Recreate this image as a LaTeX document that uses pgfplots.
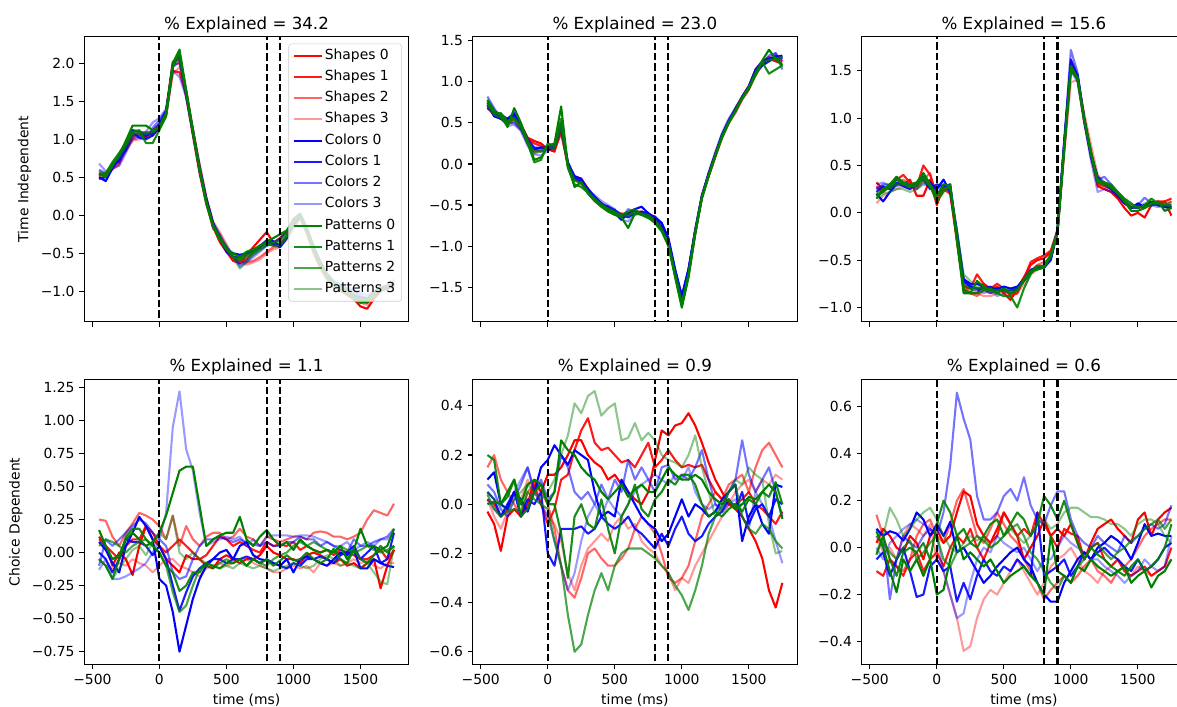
\documentclass[border=0pt]{standalone}
\usepackage{fontspec}
\setmainfont{DejaVu Sans}
\usepackage{pgfplots}
\usepackage{pgfplotstable}
\pgfplotsset{compat=1.18}

\definecolor{mred}{RGB}{255,0,0}
\definecolor{mblue}{RGB}{0,0,255}
\definecolor{mgreen}{RGB}{0,128,0}

% ---------- Panel 1: Time Independent, 34.2 ----------
\pgfplotstableread{
name -450 -400 -350 -300 -250 -200 -150 -100 -50 0 50 100 150 200 250 300 350 400 450 500 550 600 650 700 750 800 850 900 950 1000 1050 1100 1150 1200 1250 1300 1350 1400 1450 1500 1550 1600 1650 1700 1750
S0 0.52 0.55 0.68 0.70 0.95 1.05 1.08 1.02 1.12 1.20 1.38 2.02 2.05 1.55 1.05 0.55 0.15 -0.15 -0.35 -0.48 -0.60 -0.63 -0.52 -0.42 -0.32 -0.22 -0.36 -0.30 -0.22 -0.05 0.02 -0.22 -0.48 -0.68 -0.82 -0.92 -0.98 -1.05 -1.10 -1.20 -1.23 -1.10 -1.00 -0.95 -0.90
S1 0.55 0.50 0.62 0.75 0.85 1.02 1.10 1.08 1.05 1.15 1.32 1.90 1.88 1.58 1.12 0.65 0.22 -0.10 -0.30 -0.42 -0.55 -0.62 -0.58 -0.48 -0.42 -0.35 -0.40 -0.38 -0.28 -0.12 -0.02 -0.18 -0.42 -0.62 -0.78 -0.90 -0.95 -1.00 -1.08 -1.15 -1.15 -1.08 -0.98 -0.96 -0.92
S2 0.58 0.53 0.60 0.68 0.90 1.00 1.05 1.10 1.08 1.17 1.36 1.98 2.00 1.62 1.08 0.60 0.18 -0.18 -0.25 -0.45 -0.58 -0.60 -0.62 -0.60 -0.55 -0.48 -0.42 -0.40 -0.30 -0.15 -0.03 -0.25 -0.50 -0.70 -0.85 -0.95 -1.00 -1.02 -1.08 -1.12 -1.10 -1.02 -0.95 -0.92 -0.90
S3 0.50 0.55 0.62 0.66 0.85 0.98 1.00 1.02 1.05 1.15 1.30 1.85 1.95 1.65 1.15 0.68 0.25 -0.08 -0.22 -0.38 -0.55 -0.62 -0.65 -0.62 -0.58 -0.50 -0.45 -0.42 -0.32 -0.18 -0.05 -0.22 -0.46 -0.66 -0.82 -0.92 -0.98 -1.04 -1.12 -1.15 -1.18 -1.08 -1.00 -0.96 -0.90
C0 0.50 0.45 0.62 0.75 0.92 1.12 1.10 1.05 1.08 1.20 1.36 1.98 2.10 1.62 1.12 0.62 0.22 -0.10 -0.28 -0.45 -0.50 -0.52 -0.50 -0.45 -0.42 -0.35 -0.38 -0.42 -0.30 -0.10 0.00 -0.20 -0.44 -0.64 -0.80 -0.90 -0.95 -1.00 -1.05 -1.08 -1.10 -1.05 -1.00 -0.95 -0.92
C1 0.48 0.50 0.66 0.72 0.88 1.10 1.02 1.00 1.05 1.15 1.33 1.96 2.12 1.60 1.08 0.58 0.18 -0.12 -0.30 -0.48 -0.55 -0.55 -0.50 -0.48 -0.40 -0.33 -0.34 -0.40 -0.28 -0.12 -0.02 -0.20 -0.45 -0.66 -0.80 -0.90 -0.96 -1.00 -1.06 -1.12 -1.12 -1.05 -0.98 -0.94 -0.90
C2 0.60 0.55 0.64 0.70 0.86 1.05 1.05 1.02 1.15 1.25 1.38 1.95 2.02 1.58 1.10 0.62 0.20 -0.12 -0.30 -0.42 -0.55 -0.65 -0.60 -0.52 -0.45 -0.40 -0.36 -0.32 -0.22 -0.08 0.00 -0.18 -0.42 -0.62 -0.78 -0.88 -0.92 -0.98 -1.00 -1.05 -1.10 -1.02 -0.95 -0.98 -0.88
C3 0.68 0.58 0.62 0.65 0.82 1.00 1.02 1.10 1.22 1.28 1.40 1.90 1.82 1.55 1.10 0.65 0.22 -0.10 -0.25 -0.40 -0.52 -0.68 -0.62 -0.55 -0.48 -0.40 -0.38 -0.30 -0.20 -0.08 0.02 -0.15 -0.40 -0.60 -0.76 -0.86 -0.90 -0.95 -0.98 -1.02 -1.05 -1.00 -0.95 -0.92 -0.85
P0 0.55 0.50 0.65 0.80 0.98 1.18 1.18 1.18 1.12 1.15 1.35 2.00 2.18 1.65 1.12 0.60 0.18 -0.15 -0.32 -0.45 -0.50 -0.55 -0.48 -0.45 -0.40 -0.35 -0.30 -0.25 -0.20 -0.08 0.00 -0.20 -0.45 -0.65 -0.80 -0.90 -0.95 -1.00 -1.08 -1.12 -1.15 -1.05 -1.00 -0.95 -0.92
P1 0.52 0.55 0.70 0.82 0.95 1.10 1.12 0.95 0.95 1.12 1.30 1.95 2.15 1.62 1.10 0.58 0.15 -0.15 -0.30 -0.45 -0.55 -0.58 -0.52 -0.48 -0.40 -0.38 -0.40 -0.40 -0.28 -0.10 0.00 -0.22 -0.46 -0.66 -0.82 -0.92 -0.98 -1.02 -1.10 -1.15 -1.12 -1.05 -0.98 -0.95 -0.92
P2 0.56 0.52 0.68 0.78 0.92 1.08 1.10 1.08 1.10 1.18 1.34 1.98 2.10 1.60 1.08 0.60 0.18 -0.12 -0.28 -0.42 -0.55 -0.60 -0.55 -0.50 -0.44 -0.38 -0.36 -0.34 -0.24 -0.08 0.02 -0.20 -0.44 -0.64 -0.80 -0.90 -0.95 -1.00 -1.05 -1.10 -1.10 -1.02 -0.96 -0.94 -0.90
P3 0.54 0.56 0.66 0.76 0.90 1.06 1.08 1.06 1.08 1.16 1.32 1.96 2.06 1.60 1.10 0.62 0.20 -0.14 -0.30 -0.44 -0.56 -0.70 -0.62 -0.52 -0.46 -0.40 -0.36 -0.32 -0.20 -0.05 0.02 -0.18 -0.42 -0.62 -0.78 -0.88 -0.94 -0.98 -1.02 -1.08 -1.08 -1.00 -0.95 -0.95 -0.95
}\rawA
\pgfplotstabletranspose[colnames from=name, input colnames to=t]\dataA\rawA

% ---------- Panel 2: Time Independent, 23.0 ----------
\pgfplotstableread{
name -450 -400 -350 -300 -250 -200 -150 -100 -50 0 50 100 150 200 250 300 350 400 450 500 550 600 650 700 750 800 850 900 950 1000 1050 1100 1150 1200 1250 1300 1350 1400 1450 1500 1550 1600 1650 1700 1750
S0 0.70 0.62 0.55 0.52 0.58 0.48 0.32 0.28 0.25 0.18 0.15 0.40 -0.02 -0.15 -0.18 -0.30 -0.42 -0.48 -0.55 -0.58 -0.65 -0.62 -0.58 -0.60 -0.62 -0.68 -0.80 -0.98 -1.35 -1.68 -1.35 -0.85 -0.40 -0.12 0.12 0.35 0.52 0.65 0.80 0.92 1.10 1.22 1.28 1.25 1.22
S1 0.75 0.60 0.58 0.50 0.55 0.45 0.30 0.25 0.22 0.20 0.18 0.42 0.02 -0.18 -0.20 -0.35 -0.45 -0.50 -0.52 -0.60 -0.62 -0.60 -0.58 -0.58 -0.60 -0.65 -0.78 -0.95 -1.30 -1.65 -1.30 -0.82 -0.38 -0.15 0.10 0.32 0.50 0.68 0.82 0.95 1.15 1.25 1.30 1.28 1.25
S2 0.68 0.60 0.55 0.48 0.52 0.42 0.28 0.15 0.18 0.22 0.20 0.38 0.00 -0.20 -0.22 -0.35 -0.45 -0.52 -0.55 -0.58 -0.60 -0.62 -0.58 -0.60 -0.62 -0.70 -0.80 -0.98 -1.32 -1.70 -1.32 -0.80 -0.42 -0.15 0.08 0.32 0.50 0.62 0.78 0.90 1.08 1.20 1.25 1.30 1.32
S3 0.72 0.64 0.56 0.50 0.55 0.46 0.30 0.12 0.16 0.20 0.18 0.36 -0.02 -0.18 -0.25 -0.32 -0.44 -0.50 -0.55 -0.60 -0.62 -0.60 -0.62 -0.60 -0.64 -0.70 -0.78 -0.96 -1.35 -1.72 -1.35 -0.85 -0.40 -0.15 0.10 0.34 0.52 0.64 0.80 0.92 1.10 1.22 1.25 1.28 1.30
C0 0.72 0.58 0.55 0.55 0.60 0.45 0.25 0.18 0.20 0.20 0.22 0.50 0.02 -0.15 -0.18 -0.32 -0.40 -0.48 -0.55 -0.60 -0.68 -0.60 -0.55 -0.52 -0.60 -0.66 -0.72 -0.92 -1.30 -1.62 -1.28 -0.82 -0.40 -0.12 0.12 0.35 0.52 0.66 0.82 0.95 1.15 1.25 1.28 1.30 1.32
C1 0.68 0.62 0.60 0.55 0.62 0.48 0.30 0.20 0.20 0.18 0.20 0.48 0.00 -0.18 -0.22 -0.30 -0.40 -0.50 -0.52 -0.56 -0.62 -0.65 -0.60 -0.58 -0.62 -0.64 -0.72 -0.90 -1.28 -1.60 -1.28 -0.80 -0.38 -0.12 0.12 0.35 0.52 0.66 0.80 0.92 1.12 1.20 1.25 1.32 1.28
C2 0.82 0.68 0.55 0.50 0.50 0.42 0.25 0.18 0.15 0.18 0.22 0.45 0.00 -0.15 -0.20 -0.35 -0.40 -0.48 -0.52 -0.58 -0.66 -0.55 -0.58 -0.60 -0.62 -0.66 -0.76 -0.94 -1.30 -1.64 -1.30 -0.82 -0.40 -0.12 0.12 0.36 0.54 0.68 0.80 0.92 1.12 1.22 1.32 1.35 1.15
C3 0.78 0.66 0.56 0.46 0.48 0.40 0.22 0.12 0.10 0.16 0.20 0.42 -0.02 -0.15 -0.20 -0.32 -0.38 -0.45 -0.50 -0.55 -0.68 -0.70 -0.62 -0.58 -0.60 -0.68 -0.78 -0.96 -1.32 -1.66 -1.30 -0.80 -0.38 -0.10 0.15 0.38 0.55 0.68 0.82 0.92 1.10 1.20 1.28 1.35 1.25
P0 0.78 0.65 0.60 0.45 0.68 0.50 0.28 0.05 0.08 0.22 0.25 0.70 -0.02 -0.28 -0.22 -0.36 -0.45 -0.52 -0.58 -0.62 -0.65 -0.78 -0.60 -0.62 -0.65 -0.72 -0.82 -1.00 -1.38 -1.75 -1.38 -0.85 -0.42 -0.15 0.10 0.32 0.50 0.64 0.80 0.92 1.08 1.26 1.39 1.28 1.20
P1 0.75 0.62 0.62 0.52 0.55 0.45 0.25 0.02 0.05 0.25 0.22 0.55 -0.05 -0.25 -0.28 -0.35 -0.42 -0.50 -0.55 -0.60 -0.62 -0.58 -0.55 -0.62 -0.66 -0.70 -0.80 -0.98 -1.36 -1.72 -1.36 -0.84 -0.40 -0.14 0.10 0.34 0.50 0.65 0.80 0.94 1.08 1.24 1.10 1.15 1.20
P2 0.72 0.60 0.56 0.50 0.56 0.46 0.28 0.15 0.15 0.20 0.20 0.48 -0.02 -0.20 -0.24 -0.34 -0.44 -0.50 -0.54 -0.58 -0.63 -0.62 -0.58 -0.60 -0.62 -0.68 -0.80 -0.96 -1.34 -1.70 -1.34 -0.82 -0.40 -0.14 0.10 0.34 0.51 0.65 0.80 0.93 1.12 1.24 1.26 1.28 1.30
P3 0.74 0.63 0.57 0.49 0.54 0.44 0.27 0.14 0.17 0.21 0.19 0.44 -0.01 -0.19 -0.23 -0.33 -0.43 -0.49 -0.56 -0.59 -0.64 -0.63 -0.59 -0.61 -0.63 -0.69 -0.79 -0.97 -1.33 -1.69 -1.33 -0.83 -0.41 -0.13 0.11 0.33 0.51 0.65 0.81 0.93 1.11 1.23 1.27 1.29 1.30
}\rawB
\pgfplotstabletranspose[colnames from=name, input colnames to=t]\dataB\rawB

% ---------- Panel 3: Time Independent, 15.6 ----------
\pgfplotstableread{
name -450 -400 -350 -300 -250 -200 -150 -100 -50 0 50 100 150 200 250 300 350 400 450 500 550 600 650 700 750 800 850 900 950 1000 1050 1100 1150 1200 1250 1300 1350 1400 1450 1500 1550 1600 1650 1700 1750
S0 0.32 0.25 0.28 0.38 0.30 0.35 0.18 0.18 0.35 0.08 0.28 0.22 -0.28 -0.82 -0.85 -0.85 -0.75 -0.82 -0.78 -0.85 -0.92 -0.80 -0.68 -0.55 -0.50 -0.48 -0.42 -0.20 0.72 1.58 1.40 0.95 0.60 0.28 0.25 0.22 0.15 0.05 -0.03 0.00 -0.05 0.08 0.10 0.12 -0.03
S1 0.28 0.22 0.30 0.35 0.40 0.32 0.28 0.50 0.40 0.18 0.25 0.20 -0.30 -0.78 -0.80 -0.65 -0.75 -0.80 -0.75 -0.80 -0.88 -0.85 -0.70 -0.52 -0.48 -0.45 -0.40 -0.18 0.70 1.60 1.42 0.98 0.62 0.30 0.28 0.25 0.18 0.10 0.05 0.08 0.05 0.10 0.12 0.12 0.15
S2 0.25 0.28 0.25 0.30 0.35 0.30 0.25 0.35 0.42 0.15 0.30 0.25 -0.25 -0.75 -0.85 -0.88 -0.82 -0.85 -0.80 -0.82 -0.85 -0.80 -0.72 -0.62 -0.55 -0.52 -0.48 -0.20 0.65 1.48 1.45 1.00 0.65 0.32 0.30 0.28 0.20 0.12 0.06 0.05 0.08 0.10 0.12 0.08 0.12
S3 0.10 0.18 0.22 0.25 0.28 0.25 0.28 0.32 0.30 0.12 0.25 0.28 -0.20 -0.70 -0.80 -0.85 -0.88 -0.88 -0.85 -0.82 -0.85 -0.85 -0.75 -0.65 -0.60 -0.55 -0.48 -0.22 0.60 1.38 1.40 1.05 0.72 0.40 0.32 0.28 0.20 0.12 0.08 0.06 0.05 0.08 0.10 0.08 0.12
C0 0.20 0.12 0.22 0.30 0.30 0.28 0.30 0.38 0.32 0.25 0.35 0.22 -0.20 -0.70 -0.75 -0.75 -0.78 -0.82 -0.80 -0.78 -0.80 -0.78 -0.70 -0.62 -0.58 -0.58 -0.50 -0.20 0.72 1.55 1.45 1.00 0.62 0.38 0.30 0.25 0.18 0.10 0.05 0.10 0.06 0.12 0.08 0.06 0.05
C1 0.22 0.28 0.25 0.32 0.28 0.25 0.32 0.35 0.25 0.30 0.28 0.30 -0.25 -0.72 -0.78 -0.80 -0.80 -0.78 -0.82 -0.82 -0.82 -0.80 -0.72 -0.60 -0.58 -0.58 -0.48 -0.18 0.75 1.62 1.45 0.98 0.60 0.35 0.32 0.25 0.18 0.12 0.06 0.05 0.08 0.08 0.10 0.08 0.06
C2 0.25 0.30 0.30 0.35 0.32 0.30 0.28 0.40 0.30 0.25 0.30 0.25 -0.22 -0.72 -0.80 -0.82 -0.80 -0.85 -0.82 -0.80 -0.85 -0.82 -0.70 -0.62 -0.56 -0.56 -0.46 -0.18 0.75 1.72 1.48 0.98 0.58 0.35 0.38 0.30 0.20 0.12 0.05 0.08 0.16 0.10 0.08 0.06 0.06
C3 0.30 0.32 0.28 0.28 0.30 0.28 0.25 0.30 0.28 0.20 0.28 0.28 -0.20 -0.70 -0.78 -0.80 -0.85 -0.82 -0.88 -0.85 -0.82 -0.80 -0.72 -0.64 -0.58 -0.58 -0.48 -0.20 0.68 1.50 1.38 0.95 0.55 0.22 0.25 0.22 0.18 0.10 0.05 0.06 0.10 0.08 0.06 0.08 0.08
P0 0.15 0.25 0.30 0.38 0.32 0.30 0.32 0.42 0.30 0.18 0.30 0.28 -0.30 -0.85 -0.85 -0.72 -0.78 -0.82 -0.85 -0.80 -0.85 -0.82 -0.70 -0.62 -0.60 -0.58 -0.46 -0.22 0.68 1.55 1.42 0.98 0.62 0.32 0.30 0.28 0.20 0.12 0.02 0.02 0.05 0.10 0.12 0.02 0.05
P1 0.18 0.22 0.28 0.35 0.30 0.28 0.30 0.38 0.28 0.12 0.22 0.30 -0.28 -0.80 -0.85 -0.85 -0.82 -0.80 -0.85 -0.88 -0.88 -1.00 -0.80 -0.65 -0.56 -0.56 -0.44 -0.20 0.68 1.52 1.40 0.98 0.65 0.35 0.32 0.30 0.22 0.15 0.10 0.05 0.08 0.15 0.10 0.08 0.08
P2 0.20 0.24 0.26 0.30 0.30 0.28 0.28 0.36 0.30 0.18 0.26 0.26 -0.26 -0.76 -0.80 -0.80 -0.80 -0.82 -0.82 -0.82 -0.86 -0.82 -0.72 -0.62 -0.56 -0.56 -0.46 -0.20 0.68 1.50 1.42 0.98 0.62 0.34 0.30 0.26 0.20 0.12 0.06 0.06 0.06 0.10 0.10 0.08 0.08
P3 0.15 0.20 0.22 0.25 0.25 0.22 0.25 0.32 0.28 0.20 0.25 0.25 -0.18 -0.65 -0.72 -0.78 -0.80 -0.80 -0.82 -0.80 -0.82 -0.80 -0.72 -0.64 -0.58 -0.58 -0.46 -0.18 0.70 1.52 1.44 1.00 0.64 0.36 0.32 0.28 0.22 0.14 0.08 0.06 0.06 0.08 0.10 0.10 0.10
}\rawC
\pgfplotstabletranspose[colnames from=name, input colnames to=t]\dataC\rawC

% ---------- Panel 4: Choice Dependent, 1.1 ----------
\pgfplotstableread{
name -450 -400 -350 -300 -250 -200 -150 -100 -50 0 50 100 150 200 250 300 350 400 450 500 550 600 650 700 750 800 850 900 950 1000 1050 1100 1150 1200 1250 1300 1350 1400 1450 1500 1550 1600 1650 1700 1750
S0 0.12 0.05 -0.10 0.00 -0.05 -0.17 0.05 0.20 0.10 0.05 -0.05 -0.10 -0.15 -0.02 -0.05 -0.05 -0.10 -0.12 -0.05 -0.02 -0.05 -0.08 -0.05 -0.05 -0.02 0.05 0.00 -0.02 -0.05 -0.05 -0.08 -0.02 0.00 -0.02 -0.05 -0.08 -0.05 -0.10 -0.08 -0.12 -0.08 -0.05 -0.27 -0.10 0.02
S1 0.10 0.05 0.00 -0.05 0.05 0.10 0.10 0.20 0.15 0.05 0.00 0.05 0.10 0.05 0.00 -0.05 -0.02 0.05 0.12 0.10 0.05 0.08 0.05 0.02 0.00 0.08 0.05 0.06 0.05 0.08 0.02 0.05 0.02 0.00 0.02 -0.02 0.02 0.00 -0.02 -0.05 -0.05 -0.02 0.02 -0.05 0.02
S2 0.25 0.24 0.12 0.05 0.15 0.22 0.30 0.28 0.25 0.20 0.10 0.28 0.05 0.20 0.10 0.05 0.12 0.15 0.15 0.10 0.12 0.18 0.12 0.10 0.05 0.12 0.10 0.08 0.10 0.12 0.12 0.10 0.15 0.16 0.15 0.12 0.12 0.10 0.12 0.15 0.25 0.32 0.30 0.28 0.37
S3 -0.05 -0.10 -0.12 -0.08 -0.10 -0.05 -0.08 -0.10 -0.15 -0.10 -0.05 -0.05 -0.10 -0.12 -0.15 -0.18 -0.12 -0.10 -0.08 -0.10 -0.08 -0.05 -0.05 -0.08 -0.10 -0.12 -0.15 -0.15 -0.12 -0.10 -0.12 -0.10 -0.15 -0.08 -0.10 -0.08 -0.10 -0.08 -0.05 -0.08 -0.06 -0.10 -0.12 -0.08 -0.08
C0 0.08 0.02 -0.08 -0.15 0.05 0.15 0.27 0.20 0.10 -0.20 -0.25 -0.45 -0.75 -0.55 -0.35 -0.20 -0.10 -0.05 0.00 0.02 -0.05 0.05 0.08 -0.02 -0.05 -0.06 -0.08 -0.10 -0.05 -0.15 -0.05 -0.03 -0.05 -0.08 -0.10 -0.05 0.00 -0.02 0.02 -0.12 -0.12 -0.05 -0.08 -0.10 -0.11
C1 0.00 -0.05 -0.15 -0.05 0.10 0.08 0.08 0.05 -0.02 0.05 -0.05 -0.25 -0.44 -0.30 -0.18 -0.12 -0.08 -0.05 -0.05 -0.08 -0.05 -0.05 -0.03 -0.05 -0.08 -0.05 -0.08 -0.10 -0.12 -0.08 -0.10 -0.05 -0.05 -0.03 -0.05 -0.08 -0.02 0.00 0.05 -0.05 0.00 0.05 -0.08 -0.05 0.15
C2 -0.10 0.10 0.05 0.10 0.15 0.20 0.25 0.22 0.15 0.10 0.05 -0.15 -0.20 -0.18 -0.05 0.05 0.10 0.10 0.12 0.10 0.08 0.10 0.08 0.06 0.05 0.08 0.05 0.05 0.08 0.08 0.12 0.10 0.10 0.05 0.08 0.05 0.02 0.00 0.10 0.05 0.05 0.08 0.10 0.12 0.18
C3 -0.13 -0.05 -0.20 -0.20 -0.18 -0.15 -0.12 -0.08 0.00 0.10 0.30 0.95 1.22 0.78 0.62 0.30 0.05 0.08 0.10 0.12 0.10 0.12 0.05 0.10 0.05 0.12 0.13 0.13 0.13 0.12 0.13 0.13 0.12 0.10 0.08 0.05 0.05 0.08 0.02 0.05 0.08 0.05 0.10 0.10 0.15
P0 0.17 0.05 -0.05 -0.02 0.10 0.15 0.10 0.05 0.08 0.15 0.28 0.45 0.62 0.65 0.65 0.35 0.05 0.10 0.13 0.15 0.15 0.27 0.10 0.05 0.12 0.17 0.10 0.05 0.08 0.02 0.10 0.05 0.02 0.00 0.02 0.00 0.05 -0.05 0.02 0.18 0.05 0.05 0.02 0.05 0.18
P1 -0.05 -0.10 -0.20 -0.05 0.12 0.18 0.18 0.10 0.05 0.00 -0.10 -0.15 -0.29 -0.25 -0.15 -0.15 -0.08 -0.10 -0.12 -0.08 -0.08 -0.05 -0.10 -0.05 -0.08 -0.05 -0.10 -0.06 -0.02 -0.06 -0.05 0.00 -0.05 -0.08 -0.05 0.03 -0.05 -0.08 0.02 -0.05 -0.08 -0.02 0.05 0.00 0.05
P2 0.05 0.10 0.08 0.05 0.00 0.05 0.08 0.10 0.05 0.00 -0.10 -0.30 -0.45 -0.40 -0.25 -0.12 -0.10 -0.12 -0.08 -0.05 -0.08 -0.05 -0.10 -0.05 -0.08 -0.10 -0.05 -0.02 0.00 0.05 0.08 0.05 0.08 0.05 0.02 0.00 0.05 0.02 0.00 0.02 0.05 0.02 0.00 0.02 0.05
P3 -0.05 -0.10 -0.20 -0.12 -0.05 0.02 0.05 -0.02 0.08 0.15 0.10 0.28 0.00 -0.05 0.00 -0.05 -0.08 -0.10 -0.12 -0.10 -0.12 -0.08 -0.10 -0.12 -0.10 -0.12 -0.14 -0.12 -0.10 -0.08 -0.10 -0.12 -0.10 -0.05 -0.02 -0.05 -0.10 -0.08 -0.10 -0.12 -0.08 -0.15 -0.22 -0.24 0.05
}\rawD
\pgfplotstabletranspose[colnames from=name, input colnames to=t]\dataD\rawD

% ---------- Panel 5: Choice Dependent, 0.9 ----------
\pgfplotstableread{
name -450 -400 -350 -300 -250 -200 -150 -100 -50 0 50 100 150 200 250 300 350 400 450 500 550 600 650 700 750 800 850 900 950 1000 1050 1100 1150 1200 1250 1300 1350 1400 1450 1500 1550 1600 1650 1700 1750
S0 -0.03 -0.08 -0.19 -0.05 -0.02 -0.05 0.00 0.10 0.05 0.12 0.12 0.15 0.20 0.26 0.26 0.20 0.17 0.15 0.10 0.12 0.08 0.05 0.02 0.00 0.05 0.18 0.30 0.28 0.32 0.33 0.37 0.32 0.25 0.17 0.10 0.05 0.00 -0.02 -0.05 -0.10 -0.15 -0.22 -0.35 -0.42 -0.32
S1 0.02 0.00 -0.05 -0.02 0.05 0.00 -0.02 0.08 0.00 -0.08 -0.02 0.10 0.12 0.22 0.30 0.35 0.25 0.22 0.23 0.20 0.17 0.18 0.15 0.20 0.25 0.15 0.18 0.22 0.18 0.15 0.16 0.15 0.16 0.10 0.05 0.02 0.00 0.00 0.02 0.05 0.00 -0.02 -0.05 -0.08 -0.03
S2 0.15 0.20 0.10 0.05 0.00 -0.05 0.05 0.08 0.05 0.00 -0.10 -0.25 -0.35 -0.38 -0.30 -0.20 -0.18 -0.22 -0.25 -0.25 -0.22 -0.18 -0.10 -0.05 -0.08 -0.12 -0.20 -0.30 -0.32 -0.30 -0.25 -0.15 -0.05 0.00 0.05 0.02 0.08 0.10 0.12 0.05 0.15 0.22 0.25 0.20 0.15
S3 0.02 -0.05 -0.10 -0.03 0.05 0.02 0.10 0.05 0.00 -0.05 -0.08 -0.15 -0.28 -0.35 -0.25 -0.18 -0.15 -0.12 -0.15 -0.08 -0.05 -0.10 -0.08 -0.15 -0.18 -0.20 -0.25 -0.28 -0.35 -0.30 -0.32 -0.25 -0.20 -0.15 -0.10 -0.05 0.00 0.05 0.08 0.10 0.05 0.10 0.08 0.12 0.10
C0 0.10 0.13 0.00 -0.02 0.05 0.02 -0.03 0.05 0.15 0.18 0.24 0.20 0.16 0.22 0.20 0.18 0.05 -0.05 -0.03 -0.05 0.10 0.05 0.00 -0.05 -0.08 -0.10 -0.15 -0.12 -0.05 0.02 -0.05 0.00 -0.02 -0.05 -0.03 0.02 0.05 0.08 -0.15 -0.05 0.00 -0.08 -0.12 0.08 0.07
C1 0.05 0.02 -0.05 0.00 0.05 -0.05 0.02 0.00 0.05 -0.20 -0.25 -0.10 -0.10 -0.10 -0.09 -0.12 -0.10 -0.05 -0.08 -0.10 -0.08 -0.05 -0.10 -0.12 -0.15 -0.18 -0.12 -0.17 -0.10 -0.05 -0.12 -0.15 -0.13 -0.08 -0.05 -0.03 0.02 -0.02 0.05 -0.08 -0.02 0.00 -0.05 0.02 0.00
C2 0.08 0.05 -0.02 -0.05 0.02 0.08 0.15 0.05 0.10 0.02 0.05 0.20 0.15 0.05 0.02 0.05 0.00 0.08 0.02 0.10 0.05 0.18 0.10 0.15 0.10 0.05 0.15 0.16 0.10 0.12 0.10 0.15 0.22 0.10 0.00 -0.02 0.05 0.10 0.26 0.12 0.05 0.10 0.15 0.05 -0.05
C3 0.02 -0.02 -0.05 0.00 0.05 0.10 0.15 0.05 0.00 -0.05 -0.15 -0.25 -0.35 -0.28 -0.15 -0.05 0.00 -0.05 0.02 -0.02 -0.05 0.00 0.05 0.08 0.10 0.12 0.10 0.08 0.12 0.10 0.15 0.05 0.00 -0.02 0.00 -0.03 0.00 0.02 -0.05 -0.10 0.05 0.00 -0.05 -0.15 -0.24
P0 0.00 0.01 0.00 0.05 0.10 0.00 0.08 0.10 0.08 0.00 0.05 0.26 0.22 0.20 0.15 0.12 0.10 0.05 0.02 0.05 0.08 0.03 0.06 0.08 0.05 0.05 0.10 0.15 0.12 0.10 0.10 0.12 0.10 0.05 0.02 0.00 0.02 -0.02 0.00 0.03 0.02 0.05 0.08 0.05 -0.06
P1 0.20 0.18 0.00 0.03 0.10 -0.05 -0.02 0.05 0.08 0.00 0.00 -0.12 -0.30 -0.05 0.00 -0.08 -0.10 0.02 -0.10 -0.20 -0.05 0.00 0.08 -0.02 -0.05 0.02 0.05 0.10 0.08 0.12 0.12 0.08 0.00 -0.05 -0.03 -0.05 -0.02 0.00 -0.03 0.02 0.00 0.05 0.03 0.09 0.00
P2 0.04 -0.02 -0.05 -0.03 -0.02 -0.03 0.05 0.02 0.00 -0.02 -0.15 -0.25 -0.45 -0.60 -0.57 -0.45 -0.35 -0.28 -0.35 -0.25 -0.20 -0.18 -0.18 -0.18 -0.20 -0.22 -0.25 -0.28 -0.33 -0.37 -0.43 -0.35 -0.25 -0.12 -0.05 0.00 0.05 0.08 -0.05 -0.10 -0.12 -0.08 -0.10 -0.15 -0.18
P3 0.05 0.02 0.00 -0.03 0.02 0.05 0.08 0.05 0.02 0.05 0.10 0.20 0.28 0.41 0.37 0.44 0.46 0.36 0.39 0.41 0.26 0.27 0.33 0.26 0.29 0.26 0.20 0.18 0.17 0.15 0.20 0.28 0.15 0.05 -0.05 -0.02 0.05 0.10 0.08 0.15 0.12 0.10 -0.08 -0.20 -0.19
}\rawE
\pgfplotstabletranspose[colnames from=name, input colnames to=t]\dataE\rawE

% ---------- Panel 6: Choice Dependent, 0.6 ----------
\pgfplotstableread{
name -450 -400 -350 -300 -250 -200 -150 -100 -50 0 50 100 150 200 250 300 350 400 450 500 550 600 650 700 750 800 850 900 950 1000 1050 1100 1150 1200 1250 1300 1350 1400 1450 1500 1550 1600 1650 1700 1750
S0 0.02 0.08 0.05 0.00 -0.02 0.05 0.02 -0.05 0.05 0.08 0.02 0.05 0.15 0.24 0.22 0.10 0.05 0.02 0.08 0.15 0.10 0.05 -0.05 0.00 0.05 0.12 0.05 0.08 0.05 0.10 0.02 -0.05 0.02 0.08 0.10 0.12 0.08 0.05 0.02 0.12 0.15 0.05 0.12 0.15 0.17
S1 -0.10 -0.12 -0.05 -0.08 -0.12 -0.05 -0.02 -0.10 -0.05 -0.02 -0.08 0.00 0.05 0.02 0.08 0.00 -0.05 0.02 0.05 0.15 0.10 0.05 0.08 0.05 0.15 0.10 0.05 0.00 0.08 0.06 0.05 -0.05 0.00 0.02 -0.05 -0.08 -0.05 -0.10 -0.12 -0.10 -0.08 -0.12 -0.10 -0.08 0.00
S2 0.14 0.05 -0.05 -0.08 -0.10 -0.05 0.05 0.10 0.12 0.05 0.02 0.10 0.20 0.25 0.15 0.05 0.02 0.08 0.15 0.10 0.05 0.02 -0.05 -0.10 -0.15 -0.22 -0.18 -0.15 -0.12 -0.15 -0.12 -0.08 -0.05 -0.10 -0.12 -0.15 -0.10 -0.08 -0.05 0.00 0.05 0.08 0.10 0.12 0.12
S3 0.05 -0.02 0.00 -0.05 0.05 0.10 0.08 0.05 0.10 -0.05 -0.10 -0.20 -0.30 -0.44 -0.42 -0.30 -0.22 -0.18 -0.20 -0.15 -0.10 -0.05 -0.10 -0.15 -0.20 -0.15 -0.08 -0.05 -0.03 0.00 -0.05 -0.10 -0.12 -0.15 -0.10 -0.08 -0.05 -0.10 -0.12 -0.08 -0.10 -0.12 -0.10 -0.08 -0.05
C0 0.08 0.05 0.07 0.06 0.03 0.08 0.15 0.12 0.05 0.10 0.05 0.11 -0.02 0.00 -0.05 -0.10 -0.15 -0.12 -0.08 -0.05 -0.02 0.00 -0.05 -0.08 -0.15 -0.20 -0.23 -0.23 -0.15 -0.10 -0.05 -0.02 -0.05 0.00 0.02 0.05 0.03 0.00 -0.05 0.02 0.10 0.05 0.06 0.05 0.05
C1 -0.05 -0.02 -0.12 -0.05 0.00 -0.10 -0.21 -0.20 -0.08 -0.05 -0.10 -0.08 -0.23 -0.15 -0.22 -0.12 -0.05 -0.10 -0.12 -0.08 -0.10 -0.05 -0.08 -0.12 0.15 -0.12 -0.10 -0.08 -0.05 -0.12 -0.08 -0.02 -0.05 -0.02 0.00 -0.03 -0.05 -0.08 -0.10 -0.05 -0.10 -0.08 -0.05 0.00 0.02
C2 0.08 0.05 -0.22 -0.05 0.05 0.02 0.00 0.05 0.08 0.05 0.15 0.35 0.66 0.55 0.46 0.22 0.12 0.12 0.15 0.22 0.25 0.20 0.30 0.18 0.12 0.10 0.18 0.24 0.24 0.12 0.05 0.02 0.00 0.05 0.02 0.00 -0.02 0.05 0.02 0.05 0.08 0.10 0.08 0.10 0.18
C3 0.00 -0.05 0.02 0.05 0.08 0.10 0.12 0.10 0.08 0.05 -0.10 -0.20 -0.30 -0.28 -0.15 -0.05 0.00 -0.02 0.05 0.02 0.00 -0.02 0.00 -0.05 -0.10 -0.05 -0.05 0.00 0.05 0.02 0.00 -0.02 -0.05 -0.05 -0.08 -0.10 -0.12 -0.15 -0.12 -0.10 -0.05 -0.08 -0.10 -0.08 0.05
P0 0.07 0.00 -0.10 -0.19 -0.05 -0.10 -0.05 -0.12 -0.05 -0.20 -0.18 -0.05 0.05 -0.05 -0.02 -0.05 -0.08 -0.05 -0.10 -0.15 -0.12 -0.10 -0.08 -0.12 -0.15 -0.20 0.05 -0.10 -0.12 -0.15 -0.08 -0.10 -0.05 -0.08 -0.10 -0.12 -0.10 -0.08 -0.15 -0.12 -0.10 -0.17 -0.12 -0.10 -0.05
P1 -0.03 0.05 -0.05 -0.12 -0.02 0.00 -0.02 0.02 -0.05 0.10 0.20 0.15 0.05 0.08 0.02 0.00 0.05 0.10 0.12 0.05 0.10 0.15 0.12 0.05 0.10 0.22 0.18 0.12 0.20 0.10 0.02 -0.05 0.00 -0.03 -0.05 -0.08 -0.10 -0.12 -0.08 -0.05 -0.10 -0.08 -0.05 0.00 0.10
P2 0.05 0.02 -0.02 -0.05 0.00 0.03 -0.05 -0.02 0.02 0.05 -0.05 -0.08 -0.02 0.00 0.02 0.05 0.03 0.00 0.02 0.05 0.08 0.10 0.05 -0.02 -0.05 -0.10 -0.15 -0.18 -0.12 -0.15 -0.08 -0.05 0.00 0.02 -0.02 -0.05 -0.02 0.00 0.03 0.05 0.08 0.10 0.12 0.08 0.12
P3 -0.02 0.05 0.17 0.12 0.05 0.08 0.12 0.15 0.17 0.12 0.05 0.00 -0.02 0.02 0.05 0.03 0.05 0.00 0.02 0.05 0.08 0.05 0.02 0.05 0.10 0.12 0.08 0.10 0.15 0.17 0.17 0.15 0.13 0.13 0.12 0.10 0.10 0.08 0.05 0.10 0.12 0.12 0.10 0.05 0.02
}\rawF
\pgfplotstabletranspose[colnames from=name, input colnames to=t]\dataF\rawF

\pgfplotsset{
  ln/.style={line width=1.5pt, line join=round},
  stS0/.style={ln, draw=mred},
  stS1/.style={ln, draw=mred, draw opacity=0.9},
  stS2/.style={ln, draw=mred, draw opacity=0.6},
  stS3/.style={ln, draw=mred, draw opacity=0.4},
  stC0/.style={ln, draw=mblue},
  stC1/.style={ln, draw=mblue, draw opacity=0.9},
  stC2/.style={ln, draw=mblue, draw opacity=0.55},
  stC3/.style={ln, draw=mblue, draw opacity=0.4},
  stP0/.style={ln, draw=mgreen},
  stP1/.style={ln, draw=mgreen, draw opacity=0.9},
  stP2/.style={ln, draw=mgreen, draw opacity=0.7},
  stP3/.style={ln, draw=mgreen, draw opacity=0.45},
  vl/.style={black, line width=1.5pt, dash pattern=on 5.2pt off 2.2pt, forget plot},
  every axis title/.style={at={(0.5,1)}, anchor=base, yshift=5.3pt, font=\fontsize{12}{14}\selectfont},
  base/.style={
    scale only axis, width=233.6pt, height=205.2pt,
    xmin=-560, xmax=1860,
    xtick={-500,0,500,1000,1500},
    tick align=outside, tick pos=left,
    major tick length=3.5pt,
    tick style={line width=0.8pt, black},
    axis line style={line width=0.8pt},
    tick label style={font=\fontsize{10}{12}\selectfont},
    label style={font=\fontsize{10}{12}\selectfont},
    no markers, clip=true,
  },
  toprow/.style={xticklabels={,,,,}},
  botrow/.style={xticklabels={−500,0,500,1000,1500}, xlabel={time (ms)}},
}

\newcommand\plotall[1]{%
  \addplot[stS0] table[x=t,y=S0]{#1};
  \addplot[stS1] table[x=t,y=S1]{#1};
  \addplot[stS2] table[x=t,y=S2]{#1};
  \addplot[stS3] table[x=t,y=S3]{#1};
  \addplot[stC0] table[x=t,y=C0]{#1};
  \addplot[stC1] table[x=t,y=C1]{#1};
  \addplot[stC2] table[x=t,y=C2]{#1};
  \addplot[stC3] table[x=t,y=C3]{#1};
  \addplot[stP0] table[x=t,y=P0]{#1};
  \addplot[stP1] table[x=t,y=P1]{#1};
  \addplot[stP2] table[x=t,y=P2]{#1};
  \addplot[stP3] table[x=t,y=P3]{#1};
  \addplot[vl] coordinates {(0,-10) (0,10)};
  \addplot[vl] coordinates {(800,-10) (800,10)};
  \addplot[vl] coordinates {(900,-10) (900,10)};
}

\begin{document}
\begin{tikzpicture}
\begin{axis}[base, toprow, at={(0pt,0pt)}, anchor=north west,
  ymin=-1.40, ymax=2.35,
  ytick={-1,-0.5,0,0.5,1,1.5,2},
  yticklabels={−1.0,−0.5,0.0,0.5,1.0,1.5,2.0},
  ylabel={Time Independent},
  title={\% Explained = 34.2},
  legend cell align=left,
  legend image code/.code={\draw[#1] (0pt,0pt) -- (20pt,0pt);},
  legend style={at={(1,1)}, anchor=north east, xshift=-5pt, yshift=-5pt,
    fill=white, fill opacity=0.8, text opacity=1, draw=black!20, rounded corners=2pt,
    font=\fontsize{10}{12}\selectfont, inner xsep=3pt, inner ysep=2pt, row sep=2.3pt,
    nodes={inner sep=1.5pt, text height=7.5pt, text depth=2.5pt}},
]
\plotall{\dataA}
\legend{Shapes 0,Shapes 1,Shapes 2,Shapes 3,Colors 0,Colors 1,Colors 2,Colors 3,Patterns 0,Patterns 1,Patterns 2,Patterns 3}
\end{axis}

\begin{axis}[base, toprow, at={(279.6pt,0pt)}, anchor=north west,
  ymin=-1.92, ymax=1.55,
  ytick={-1.5,-1,-0.5,0,0.5,1,1.5},
  yticklabels={−1.5,−1.0,−0.5,0.0,0.5,1.0,1.5},
  title={\% Explained = 23.0},
]
\plotall{\dataB}
\end{axis}

\begin{axis}[base, toprow, at={(559.7pt,0pt)}, anchor=north west,
  ymin=-1.15, ymax=1.86,
  ytick={-1,-0.5,0,0.5,1,1.5},
  yticklabels={−1.0,−0.5,0.0,0.5,1.0,1.5},
  title={\% Explained = 15.6},
]
\plotall{\dataC}
\end{axis}

\begin{axis}[base, botrow, at={(0pt,-246.7pt)}, anchor=north west,
  ymin=-0.846, ymax=1.311,
  ytick={-0.75,-0.5,-0.25,0,0.25,0.5,0.75,1,1.25},
  yticklabels={−0.75,−0.50,−0.25,0.00,0.25,0.50,0.75,1.00,1.25},
  ylabel={Choice Dependent},
  title={\% Explained = 1.1},
]
\plotall{\dataD}
\end{axis}

\begin{axis}[base, botrow, at={(279.6pt,-246.7pt)}, anchor=north west,
  ymin=-0.651, ymax=0.508,
  ytick={-0.6,-0.4,-0.2,0,0.2,0.4},
  yticklabels={−0.6,−0.4,−0.2,0.0,0.2,0.4},
  title={\% Explained = 0.9},
]
\plotall{\dataE}
\end{axis}

\begin{axis}[base, botrow, at={(559.7pt,-246.7pt)}, anchor=north west,
  ymin=-0.497, ymax=0.717,
  ytick={-0.4,-0.2,0,0.2,0.4,0.6},
  yticklabels={−0.4,−0.2,0.0,0.2,0.4,0.6},
  title={\% Explained = 0.6},
]
\plotall{\dataF}
\end{axis}

\pgfresetboundingbox
\path[use as bounding box] (-60.7pt,26.4pt) rectangle (786.7pt,-482.6pt);
\end{tikzpicture}
\end{document}
